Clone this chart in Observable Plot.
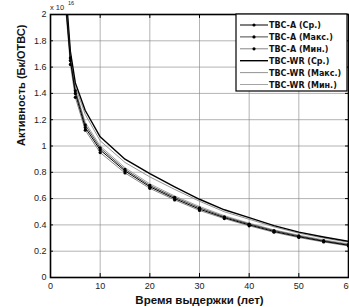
<!DOCTYPE html>
<html><head><meta charset="utf-8">
<script src="https://cdn.jsdelivr.net/npm/d3@7"></script>
<script src="https://cdn.jsdelivr.net/npm/@observablehq/plot@0.6"></script>
<style>body{margin:0;background:#fff}</style>
</head><body><div id="chart"></div>
<script>
const years = [3,4,5,7,10,15,20,25,30,35,40,45,50,55,60];
const aAvg  = [2.10,1.65,1.40,1.14,0.97,0.81,0.69,0.60,0.52,0.455,0.40,0.35,0.31,0.275,0.245];
const aMax  = [2.13,1.67,1.42,1.16,0.985,0.822,0.70,0.61,0.53,0.462,0.407,0.357,0.316,0.280,0.250];
const aMin  = [2.07,1.62,1.37,1.12,0.95,0.795,0.678,0.59,0.51,0.448,0.393,0.344,0.304,0.270,0.240];
const wrAvg = [2.22,1.72,1.48,1.27,1.07,0.90,0.79,0.69,0.595,0.515,0.455,0.395,0.345,0.308,0.275];
const wrMax = [2.19,1.70,1.45,1.24,1.04,0.875,0.765,0.67,0.58,0.50,0.443,0.385,0.337,0.300,0.268];
const wrMin = [2.14,1.68,1.43,1.18,1.00,0.835,0.712,0.62,0.54,0.47,0.413,0.362,0.322,0.286,0.256];
const seriesNames = ["TBC-A (Ср.)","TBC-A (Макс.)","TBC-A (Мин.)","TBC-WR (Ср.)","TBC-WR (Макс.)","TBC-WR (Мин.)"];
const xTicks = [0,10,20,30,40,50,60];
const yTicks = [0,0.2,0.4,0.6,0.8,1,1.2,1.4,1.6,1.8,2];
const xLabel = "Время выдержки (лет)";
const yLabel = "Активность (Бк/ОТВС)";
const expLabel = "x 10";
const expSup = "16";

const seriesVals = [aAvg,aMax,aMin,wrAvg,wrMax,wrMin];
const styles = [
  {stroke:"#000", w:1, marker:true},
  {stroke:"#333", w:0.9, marker:true},
  {stroke:"#777", w:0.9, marker:true},
  {stroke:"#000", w:1.4, marker:false},
  {stroke:"#888", w:0.9, marker:false},
  {stroke:"#999", w:0.9, marker:false}
];
const rows = [];
seriesNames.forEach((s,i)=>years.forEach((y,j)=>rows.push({series:s, idx:i, x:y, y:seriesVals[i][j]})));

const lineMarks = [];
[4,5,3,2,1,0].forEach(i=>{
  const d = rows.filter(r=>r.idx===i);
  lineMarks.push(Plot.line(d,{x:"x",y:"y",stroke:styles[i].stroke,strokeWidth:styles[i].w,clip:true}));
  if (styles[i].marker) lineMarks.push(Plot.dot(d,{x:"x",y:"y",r:1.6,fill:"#000",stroke:"none",clip:true}));
});

const chart = Plot.plot({
  width:349, height:307,
  marginLeft:50, marginRight:1, marginTop:14, marginBottom:30,
  style:{fontFamily:"Liberation Sans, Arial, sans-serif", fontSize:"9px", color:"#222", background:"#fff"},
  x:{domain:[0,60], label:null},
  y:{domain:[0,2], label:null},
  marks:[
    Plot.gridX(xTicks,{stroke:"#888",strokeOpacity:0.8,strokeWidth:0.8}),
    Plot.gridY(yTicks,{stroke:"#888",strokeOpacity:0.8,strokeWidth:0.8}),
    ...lineMarks,
    Plot.ruleX(xTicks,{y1:0,y2:0.03,stroke:"#000"}),
    Plot.ruleX(xTicks,{y1:1.97,y2:2,stroke:"#000"}),
    Plot.ruleY(yTicks,{x1:0,x2:0.6,stroke:"#000"}),
    Plot.ruleY(yTicks,{x1:59.4,x2:60,stroke:"#000"}),
    Plot.frame({stroke:"#000",strokeWidth:1.6}),
    Plot.axisX(xTicks,{tickSize:0,tickPadding:5,label:null}),
    Plot.axisY(yTicks,{tickSize:0,tickPadding:4,label:null,tickFormat:d=>String(+d.toFixed(1))}),
    Plot.text([xLabel],{frameAnchor:"bottom",dy:26,text:d=>d,fontWeight:"bold",fontSize:11.5,fill:"#111"}),
    Plot.text([yLabel],{frameAnchor:"left",dx:-29,rotate:-90,text:d=>d,fontWeight:"bold",fontSize:11,fill:"#111"})
  ]
});
document.getElementById("chart").appendChild(chart);

const svg = d3.select(chart);
const ff = "Liberation Sans, Arial, sans-serif";
svg.append("text").attr("x",50).attr("y",10).attr("font-size",7.5).attr("fill","#222")
  .attr("text-anchor","start").attr("font-family",ff).text(expLabel);
svg.append("text").attr("x",68).attr("y",4.5).attr("font-size",5.5).attr("fill","#222")
  .attr("text-anchor","start").attr("font-family",ff).text(expSup);

const lg = svg.append("g");
lg.append("rect").attr("x",236).attr("y",14).attr("width",111).attr("height",77)
  .attr("fill","#fff").attr("stroke","#000").attr("stroke-width",1.2);
seriesNames.forEach((s,i)=>{
  const y = 25 + i*11.9;
  lg.append("line").attr("x1",240).attr("x2",268).attr("y1",y).attr("y2",y)
    .attr("stroke",styles[i].stroke).attr("stroke-width",styles[i].w);
  if (styles[i].marker) lg.append("circle").attr("cx",254).attr("cy",y).attr("r",1.6).attr("fill","#000");
  lg.append("text").attr("x",269).attr("y",y+3).attr("font-size",8).attr("font-weight","bold")
    .attr("text-anchor","start").attr("font-family","DejaVu Sans, sans-serif").attr("fill","#111").text(s);
});
</script></body></html>
